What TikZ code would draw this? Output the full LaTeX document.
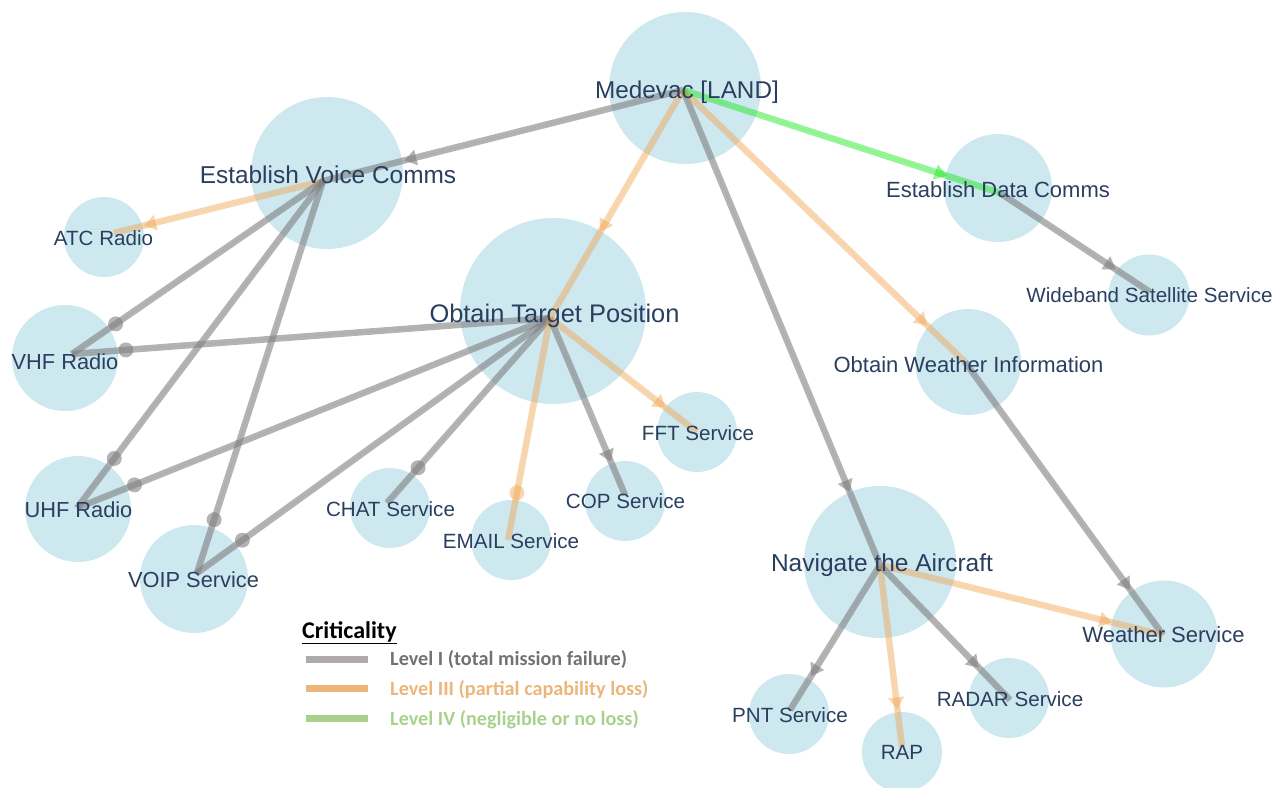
\documentclass[tikz,border=0pt]{standalone}
\usepackage{fontspec}
\setmainfont{Liberation Sans}
\newfontfamily\legendfont{Carlito}
\usetikzlibrary{calc}

\definecolor{bubble}{RGB}{173,216,230}
\definecolor{labcol}{HTML}{2A3F5F}
\definecolor{critI}{RGB}{128,128,128}
\definecolor{critIII}{RGB}{240,165,80}
\definecolor{critIV}{RGB}{20,230,20}
\definecolor{legI}{RGB}{174,170,170}
\definecolor{legItext}{RGB}{118,113,113}
\definecolor{legIII}{RGB}{236,181,122}
\definecolor{legIV}{RGB}{169,209,142}

\newcommand\labsize[1]{\fontsize{#1}{#1}\selectfont}

% edge from hub #1 to hub #2, arrow tip at distance #3 from #2, style #4
\newcommand\arrowedge[4]{%
  \draw[#4] (#1) -- (#2);
  \path ($(#2)!{#3*1pt}!(#1)$) coordinate (tp)
        ($(#2)!{(#3+12)*1pt}!(#1)$) coordinate (bc);
  \fill[#4, draw=none] (tp) -- ($(bc)!8pt!90:(tp)$) -- ($(bc)!8pt!-90:(tp)$) -- cycle;
}
% edge from hub #1 to hub #2, round dot centred at distance #3 from #2
\newcommand\dotedge[4]{%
  \draw[#4] (#1) -- (#2);
  \fill[#4, draw=none] ($(#2)!{#3*1pt}!(#1)$) circle (7.5pt);
}

\tikzset{
  bub/.style={circle, fill=bubble, fill opacity=0.6, draw=none, inner sep=0pt, minimum size=#1},
  lab/.style={text=labcol, inner sep=0pt, anchor=base},
  lvI/.style={draw=critI, fill=critI, line width=6.5pt, opacity=0.6},
  lvIII/.style={draw=critIII, fill=critIII, line width=6.5pt, opacity=0.45},
  lvIV/.style={draw=critIV, fill=critIV, line width=6.5pt, opacity=0.45},
  legline/.style={line width=7pt},
  legtext/.style={anchor=base west, inner sep=0pt, font=\legendfont\bfseries\labsize{20.2}},
}

\begin{document}
\begin{tikzpicture}[x=1pt,y=-1pt]
\useasboundingbox (0,0) rectangle (1273,787);

% bubbles
\node[bub=152pt] (c-med) at (685,88) {};
\node[bub=152pt] (c-evc) at (327,173) {};
\node[bub=80pt]  (c-atc) at (104,237) {};
\node[bub=106pt] (c-vhf) at (65,358) {};
\node[bub=106pt] (c-uhf) at (78,509) {};
\node[bub=108pt] (c-voip) at (194,579) {};
\node[bub=186pt] (c-otp) at (553,311) {};
\node[bub=80pt]  (c-chat) at (390,508) {};
\node[bub=80pt]  (c-email) at (511,540) {};
\node[bub=80pt]  (c-cop) at (625,501) {};
\node[bub=80pt]  (c-fft) at (697,432) {};
\node[bub=152pt] (c-nav) at (880,562) {};
\node[bub=80pt]  (c-pnt) at (789,714) {};
\node[bub=80pt]  (c-rap) at (902,752) {};
\node[bub=80pt]  (c-radar) at (1009,698) {};
\node[bub=107pt] (c-ws) at (1164,634) {};
\node[bub=106pt] (c-owi) at (968,362) {};
\node[bub=108pt] (c-edc) at (998,188) {};
\node[bub=81pt]  (c-wss) at (1149,295) {};

% edge hubs
\coordinate (med) at (683,90);
\coordinate (evc) at (323,181);
\coordinate (atc) at (114,233);
\coordinate (vhf) at (72,354);
\coordinate (uhf) at (77,508);
\coordinate (voip) at (197,573);
\coordinate (otp) at (550,318);
\coordinate (chat) at (387,503);
\coordinate (email) at (508,540);
\coordinate (cop) at (625,495);
\coordinate (fft) at (697,432);
\coordinate (nav) at (880,565);
\coordinate (pnt) at (790,710);
\coordinate (rap) at (902,747);
\coordinate (radar) at (1010,700);
\coordinate (ws) at (1163,635);
\coordinate (owi) at (965,362);
\coordinate (edc) at (1000,193);
\coordinate (wss) at (1150,292);

% connectors
\arrowedge{med}{evc}{84}{lvI}
\arrowedge{med}{otp}{100}{lvIII}
\arrowedge{med}{nav}{79}{lvI}
\arrowedge{med}{owi}{53}{lvIII}
\arrowedge{med}{edc}{56}{lvIV}
\arrowedge{evc}{atc}{31}{lvIII}
\dotedge{evc}{vhf}{53}{lvI}
\dotedge{evc}{uhf}{62}{lvI}
\dotedge{evc}{voip}{56}{lvI}
\dotedge{otp}{vhf}{54}{lvI}
\dotedge{otp}{uhf}{62}{lvI}
\dotedge{otp}{voip}{56}{lvI}
\dotedge{otp}{chat}{47}{lvI}
\dotedge{otp}{email}{48}{lvIII}
\arrowedge{otp}{cop}{36}{lvI}
\arrowedge{otp}{fft}{40}{lvIII}
\arrowedge{owi}{ws}{56}{lvI}
\arrowedge{edc}{wss}{41}{lvI}
\arrowedge{nav}{ws}{53}{lvIII}
\arrowedge{nav}{pnt}{40}{lvI}
\arrowedge{nav}{rap}{38}{lvIII}
\arrowedge{nav}{radar}{45}{lvI}

% labels
\node[lab, font=\labsize{24.3}] (l-med)   at (687,98)   {Medevac [LAND]};
\node[lab, font=\labsize{24.4}] (l-evc)   at (328,183)  {Establish Voice Comms};
\node[lab, font=\labsize{20.6}] (l-atc)   at (103.5,245) {ATC Radio};
\node[lab, font=\labsize{21.8}] (l-vhf)   at (65,369)   {VHF Radio};
\node[lab, font=\labsize{21.8}] (l-uhf)   at (78.5,517) {UHF Radio};
\node[lab, font=\labsize{21.8}] (l-voip)  at (193.5,587) {VOIP Service};
\node[lab, font=\labsize{25.4}] (l-otp)   at (554.5,322) {Obtain Target Position};
\node[lab, font=\labsize{20.6}] (l-chat)  at (390.5,516) {CHAT Service};
\node[lab, font=\labsize{20.6}] (l-email) at (511,548)  {EMAIL Service};
\node[lab, font=\labsize{20.6}] (l-cop)   at (625.5,508) {COP Service};
\node[lab, font=\labsize{20.6}] (l-fft)   at (698,440)  {FFT Service};
\node[lab, font=\labsize{24.5}] (l-nav)   at (882,571)  {Navigate the Aircraft};
\node[lab, font=\labsize{20.6}] (l-pnt)   at (790,722)  {PNT Service};
\node[lab, font=\labsize{20.6}] (l-rap)   at (902,759)  {RAP};
\node[lab, font=\labsize{20.6}] (l-radar) at (1010,706) {RADAR Service};
\node[lab, font=\labsize{22}]   (l-ws)    at (1163.5,642) {Weather Service};
\node[lab, font=\labsize{22}]   (l-owi)   at (968.5,372) {Obtain Weather Information};
\node[lab, font=\labsize{22}]   (l-edc)   at (998,197)  {Establish Data Comms};
\node[lab, font=\labsize{20.6}] (l-wss)   at (1149.5,302) {Wideband Satellite Service};

% legend
\node[anchor=base west, inner sep=0pt, font=\legendfont\bfseries\labsize{24}] (leg-title) at (302,638) {\underline{Criticality}};
\coordinate (leg-a1) at (306,659); \coordinate (leg-a2) at (368,659);
\coordinate (leg-b1) at (306,688); \coordinate (leg-b2) at (368,688);
\coordinate (leg-c1) at (306,718); \coordinate (leg-c2) at (368,718);
\draw[legline, legI]   (leg-a1) -- (leg-a2);
\draw[legline, legIII] (leg-b1) -- (leg-b2);
\draw[legline, legIV]  (leg-c1) -- (leg-c2);
\node[legtext, text=legItext] (leg-I)   at (390,665) {Level I (total mission failure)};
\node[legtext, text=legIII]   (leg-III) at (390,695) {Level III (partial capability loss)};
\node[legtext, text=legIV]    (leg-IV)  at (390,725) {Level IV (negligible or no loss)};
\end{tikzpicture}
\end{document}
